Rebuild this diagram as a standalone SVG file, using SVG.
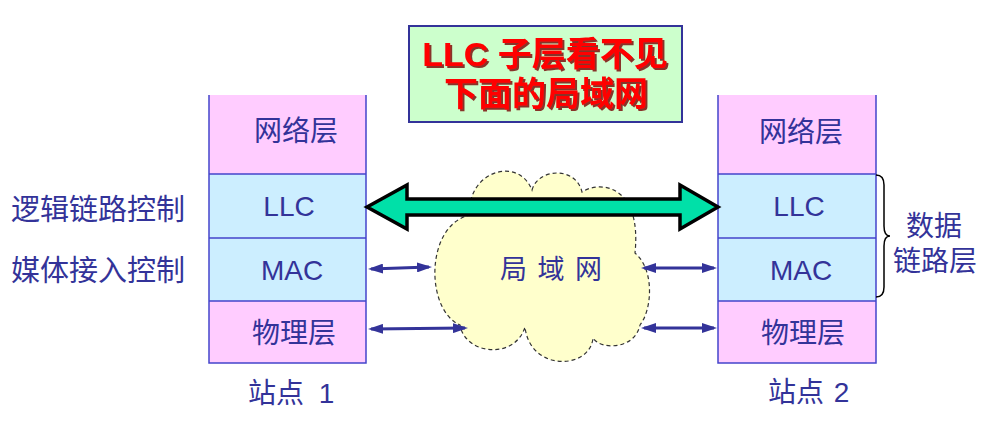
<svg xmlns="http://www.w3.org/2000/svg" width="1007" height="422" viewBox="0 0 1007 422">
<style>
.t{font-family:"Liberation Sans","Noto Sans CJK SC",sans-serif;font-size:28px;fill:#333399}
.c{text-anchor:middle}
.pink{fill:#ffccff}
.blue{fill:#cceeff}
.border{fill:none;stroke:#4444cc;stroke-width:1.5}
.small{stroke:#333399;stroke-width:3;fill:none;marker-start:url(#ah);marker-end:url(#ah)}
.title{font-family:"Liberation Sans","Noto Sans CJK SC",sans-serif;font-size:34px;font-weight:bold;fill:#ff0000;text-anchor:middle;filter:url(#sh)}
</style>
<defs>
<marker id="ah" viewBox="0 0 15 10" refX="12" refY="5" markerWidth="15" markerHeight="10" markerUnits="userSpaceOnUse" orient="auto-start-reverse">
<path d="M0,0 L15,5 L0,10 z" fill="#333399"/>
</marker>
<filter id="sh" x="-10%" y="-20%" width="120%" height="150%">
<feDropShadow dx="2" dy="2" stdDeviation="0.6" flood-color="#770000" flood-opacity="0.8"/>
</filter>
</defs>

<g id="title">
<rect x="409" y="26" width="273" height="96" fill="#ccffcc" stroke="#333399" stroke-width="2"/>
<text class="title" x="545" y="66">LLC 子层看不见</text>
<text class="title" x="546" y="106">下面的局域网</text>
</g>

<g id="station1">
<rect class="pink" x="209" y="95" width="157" height="79"/>
<rect class="blue" x="209" y="174" width="157" height="64"/>
<rect class="blue" x="209" y="238" width="157" height="63"/>
<rect class="pink" x="209" y="301" width="157" height="62"/>
<path class="border" d="M209,95 V363 H366 V95 M209,174 H366 M209,238 H366 M209,301 H366"/>
<text class="t c" x="296" y="141">网络层</text>
<text class="t c" x="289" y="216">LLC</text>
<text class="t c" x="292" y="280">MAC</text>
<text class="t c" x="294" y="343">物理层</text>
<text class="t" x="248" y="403">站点 <tspan dx="7">1</tspan></text>
</g>

<g id="station2">
<rect class="pink" x="718" y="95" width="158" height="79"/>
<rect class="blue" x="718" y="174" width="158" height="64"/>
<rect class="blue" x="718" y="238" width="158" height="63"/>
<rect class="pink" x="718" y="301" width="158" height="62"/>
<path class="border" d="M718,95 V363 H876 V95 M718,174 H876 M718,238 H876 M718,301 H876"/>
<text class="t c" x="801" y="142">网络层</text>
<text class="t c" x="799" y="216">LLC</text>
<text class="t c" x="801" y="280">MAC</text>
<text class="t c" x="803" y="343">物理层</text>
<text class="t" x="768" y="402">站点 <tspan dx="2">2</tspan></text>
</g>

<g id="labels-left">
<text class="t" x="11" y="220" style="font-size:29px">逻辑链路控制</text>
<text class="t" x="11" y="281" style="font-size:29px">媒体接入控制</text>
</g>

<g id="datalink">
<path d="M876,175 Q884,175 884,185 L884,226 Q884,236 890,236 Q884,236 884,246 L884,287 Q884,297 876,297" fill="none" stroke="#000" stroke-width="1.5"/>
<text class="t c" x="934" y="236">数据</text>
<text class="t c" x="935" y="271">链路层</text>
</g>

<g id="lan">
<path d="M470,215 C466,172 518,155 532,190 C538,168 576,166 582,192 C600,180 642,185 635,253 C655,270 652,310 640,325 C635,350 600,350 593,338 C590,370 530,372 525,327 C515,360 465,355 460,325 C425,310 425,225 470,215 Z" fill="#ffffcc" stroke="#333" stroke-width="1.2" stroke-dasharray="4 3"/>
<text class="t c" x="551" y="279" style="font-size:27px;word-spacing:3px">局 域 网</text>
</g>

<g id="connectors">
<polygon points="367,207 407,185 407,199 680,199 680,185 718,207 680,229 680,215 407,215 407,229" fill="#00e0a8" stroke="#000" stroke-width="3.5" stroke-linejoin="miter"/>
<line class="small" x1="371" y1="269" x2="429" y2="267"/>
<line class="small" x1="371" y1="329" x2="465" y2="328"/>
<line class="small" x1="644" y1="268" x2="714" y2="268"/>
<line class="small" x1="644" y1="328" x2="714" y2="328"/>
</g>
</svg>
